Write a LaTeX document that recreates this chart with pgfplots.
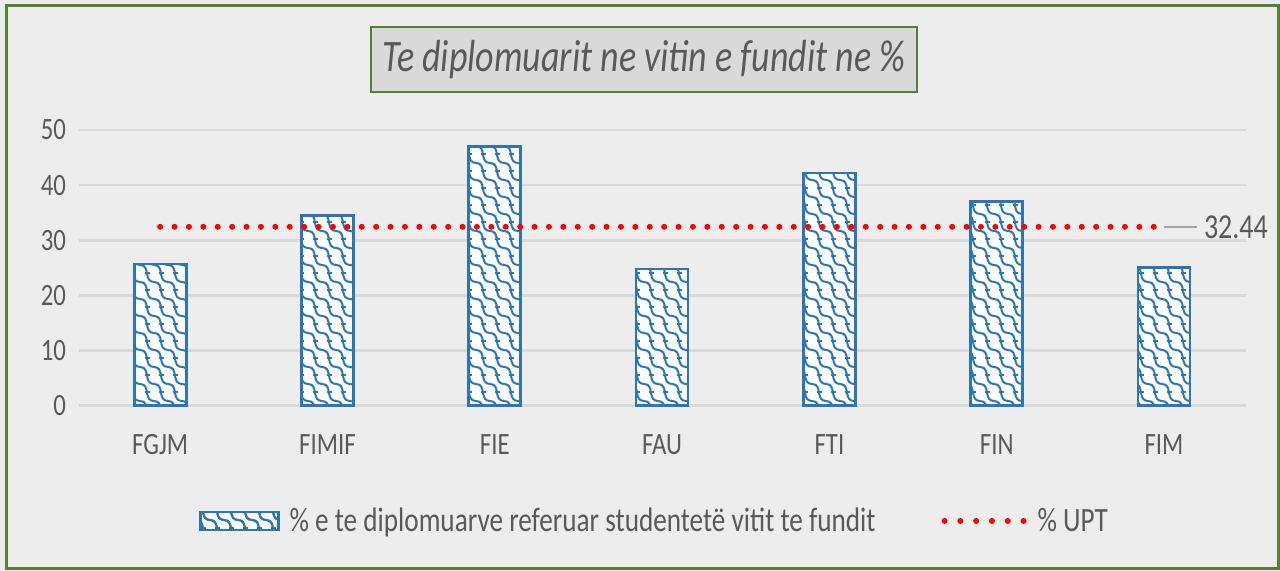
\documentclass[border=0pt]{standalone}
\usepackage{fontspec}
\setmainfont{Carlito}[FakeStretch=0.8]
\usepackage{pgfplots}
\pgfplotsset{compat=1.18}
\usetikzlibrary{patterns}

\definecolor{bgc}{RGB}{237,237,237}
\definecolor{framec}{RGB}{84,130,53}
\definecolor{titlefill}{RGB}{217,217,217}
\definecolor{txt}{RGB}{89,89,89}
\definecolor{gridc}{RGB}{217,217,217}
\definecolor{barc}{RGB}{46,117,182}
\definecolor{leader}{RGB}{166,166,166}

% wavy "shingle" fill of the bars
\pgfdeclarepatternformonly{shingles}{\pgfpoint{-1pt}{-1pt}}{\pgfpoint{8pt}{9.5pt}}{\pgfpoint{7pt}{8.5pt}}{
  \pgfsetlinewidth{1pt}
  \pgfpathmoveto{\pgfpoint{0pt}{8.5pt}}
  \pgfpathcurveto{\pgfpoint{5.5pt}{8.5pt}}{\pgfpoint{1.5pt}{0pt}}{\pgfpoint{7pt}{0pt}}
  \pgfusepath{stroke}
  \pgfpathmoveto{\pgfpoint{2.3pt}{4.25pt}}
  \pgfpathlineto{\pgfpoint{5.2pt}{4.25pt}}
  \pgfusepath{stroke}
}

\begin{document}
\begin{tikzpicture}
\useasboundingbox (0,0) rectangle (640pt,285.5pt);
\fill[bgc] (0,0) rectangle (640pt,285.5pt);
\draw[framec, line width=1.5pt] (3pt,1pt) rectangle (639pt,282.5pt);

\begin{axis}[
  at={(39.5pt,82.65pt)}, anchor=south west,
  scale only axis, width=583.5pt, height=137.85pt,
  xmin=-0.485, xmax=6.49,
  ymin=0, ymax=50,
  xtick={0,...,6},
  xticklabels={FGJM,FIMIF,FIE,FAU,FTI,FIN,FIM},
  ytick={0,10,...,50},
  ymajorgrids,
  grid style={color=gridc, line width=1.3pt},
  axis line style={draw=none},
  major tick length=0pt,
  clip=false,
  /pgf/number format/assume math mode=true,
  ticklabel style={font=\fontsize{15.5}{18}\selectfont, text=txt},
  xticklabel style={yshift=-11pt},
  yticklabel style={xshift=-3pt},
  legend style={at={(0.494,-0.418)}, anchor=center, draw=none, fill=none,
    font=\fontsize{17}{20}\selectfont, text=txt,
    /tikz/every odd column/.append style={column sep=3pt},
    /tikz/every even column/.append style={column sep=31pt}},
  legend columns=2,
]
\addplot[ybar, bar width=26pt, draw=barc, line width=1.4pt, fill=white,
  postaction={pattern=shingles, pattern color=barc},
  legend image code/.code={
    \draw[barc, line width=1.2pt, fill=white, postaction={pattern=shingles, pattern color=barc}]
      (0pt,-4.5pt) rectangle (39pt,4.5pt);}]
  coordinates {
  (0, 25.7)
  (1, 34.5)
  (2, 47.0)
  (3, 24.8)
  (4, 42.2)
  (5, 37.0)
  (6, 25.1)
};
\addlegendentry{\% e te diplomuarve referuar studentetë vitit te fundit}

\addplot[red, line width=3pt, line cap=round, dash pattern=on 0pt off 7.2pt,
  legend image code/.code={
    \draw[red, line width=3pt, line cap=round, dash pattern=on 0pt off 7.9pt]
      (0pt,0pt) -- (40pt,0pt);}]
  coordinates {(0,32.44) (6,32.44)};
\addlegendentry{\% UPT}

\draw[leader, line width=1pt] ([xshift=0pt]axis cs:6,32.44) -- ([xshift=16.5pt]axis cs:6,32.44)
  node[anchor=west, text=txt, font=\fontsize{17.5}{20}\selectfont, inner sep=3pt] {32.44};
\end{axis}

\node[draw=framec, line width=1.2pt, fill=titlefill, text=txt,
  font=\fontsize{22.5}{27}\selectfont\itshape,
  minimum width=273pt, minimum height=32.5pt] at (322pt,255.75pt)
  {Te diplomuarit ne vitin e fundit ne \%};
\end{tikzpicture}
\end{document}
